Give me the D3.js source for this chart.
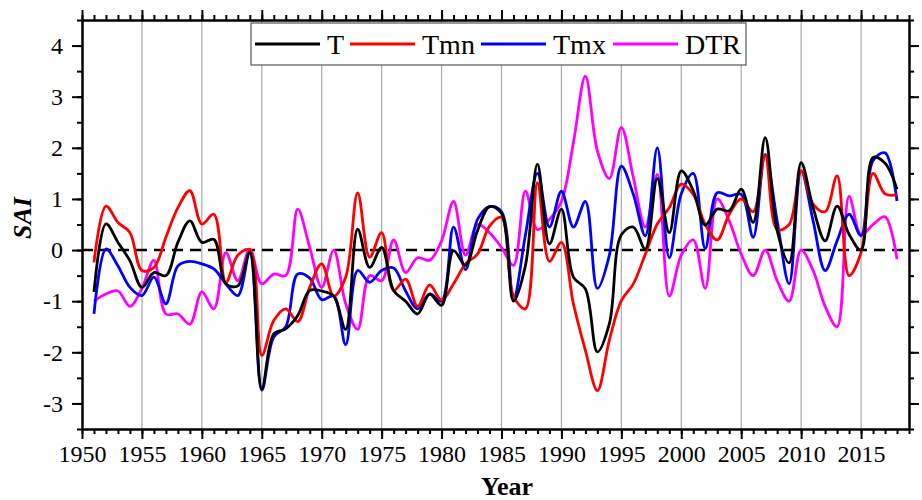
<!DOCTYPE html>
<html>
<head>
<meta charset="utf-8">
<script src="https://cdnjs.cloudflare.com/ajax/libs/d3/7.8.5/d3.min.js"></script>
<style>
body { margin: 0; background: #fff; }
</style>
</head>
<body>
<div id="canvas"></div>
<script>
var w = 922;
var h = 500;

// years 1951 - 2018
var years = d3.range(1951, 2019);

var seriesNames = ["T", "Tmn", "Tmx", "DTR"];

var tData = [
    -0.82, 0.51, 0.15, -0.21, -0.73, -0.44, -0.50, 0.15, 0.57, 0.15,   // 1951-1960
    0.21, -0.66, -0.70, -0.05, -2.72, -1.64, -1.54, -1.28, -0.79, -0.80, // 1961-1970
    -0.90, -1.55, 0.41, -0.34, 0.05, -0.79, -1.00, -1.25, -0.86, -1.08, // 1971-1980
    -0.01, -0.30, 0.38, 0.85, 0.72, -1.00, -0.30, 1.68, 0.12, 0.80,     // 1981-1990
    -0.53, -0.76, -1.99, -1.44, 0.30, 0.45, 0.02, 1.40, 0.34, 1.55,     // 1991-2000
    1.16, 0.49, 0.80, 0.77, 1.19, 0.54, 2.20, 0.38, -0.25, 1.71,        // 2001-2010
    0.83, 0.18, 0.86, 0.31, 0.00, 1.81, 1.70, 1.19                     // 2011-2018
];

var tmnData = [
    -0.24, 0.86, 0.54, 0.34, -0.40, -0.34, 0.25, 0.83, 1.16, 0.51,
    0.70, -0.63, -0.10, 0.00, -2.06, -1.38, -1.15, -1.40, -0.73, -0.27,
    -0.90, -0.53, 1.12, -0.14, 0.34, -0.79, -0.57, -1.10, -0.68, -0.98,
    -0.66, -0.27, -0.08, 0.47, 0.64, -0.90, -1.15, 1.32, -0.22, 0.15,
    -1.05, -1.96, -2.75, -1.76, -0.99, -0.66, -0.08, 0.51, 0.83, 1.29,
    1.09, 0.50, 0.20, 0.70, 1.00, 0.75, 1.85, 0.40, 0.50, 1.55,
    0.90, 0.75, 1.45, -0.50, -0.05, 1.50, 1.10, 1.08
];

var tmxData = [
    -1.25, 0.02, -0.31, -0.73, -0.89, -0.53, -1.05, -0.31, -0.22, -0.27,
    -0.37, -0.66, -0.89, -0.05, -2.74, -1.70, -1.50, -0.47, -0.55, -0.97,
    -0.90, -1.85, -0.40, -0.63, -0.40, -0.35, -0.80, -1.15, -0.86, -1.00,
    0.45, -0.38, 0.60, 0.85, 0.75, -0.95, 0.30, 1.50, 0.45, 1.15,
    0.45, 0.95, -0.75, -0.10, 1.64, 1.09, 0.28, 2.00, -0.15, 1.10,
    1.50, 0.03, 1.12, 1.06, 1.09, 0.25, 1.87, 0.57, -0.66, 1.55,
    0.57, -0.40, 0.18, 0.70, 0.28, 1.75, 1.90, 0.96
];

var dtrData = [
    -1.00, -0.86, -0.80, -1.10, -0.75, -0.20, -1.25, -1.25, -1.45, -0.82,
    -1.15, -0.05, -0.60, 0.02, -0.66, -0.47, -0.50, 0.80, 0.05, -0.73,
    0.00, -1.05, -1.55, -0.50, -0.60, 0.20, -0.44, -0.15, -0.20, 0.18,
    0.95, -0.10, 0.50, 0.34, 0.05, -0.30, 1.15, 0.40, 0.60, 0.95,
    2.10, 3.40, 1.94, 1.40, 2.40, 1.42, 0.45, 1.48, -0.90, -0.10,
    0.20, -0.75, 1.00, 0.57, -0.08, -0.50, 0.00, -0.60, -1.00, 0.00,
    -0.40, -1.10, -1.50, 1.05, 0.30, 0.50, 0.65, -0.18
];

var xTicks = d3.range(1950, 2016, 5);
var yTicks = [-3, -2, -1, 0, 1, 2, 3, 4];

var lines = [
    { name: "T",   color: "#000000", data: tData },
    { name: "Tmn", color: "#ff0000", data: tmnData },
    { name: "Tmx", color: "#0000ff", data: tmxData },
    { name: "DTR", color: "#ff00ff", data: dtrData }
];

// plot box (note: "top" is taken by window.top, so use other names)
var plotL = 82, plotR = 909, plotT = 20, plotB = 429;
var font = "'Liberation Serif', 'Times New Roman', serif";

var svg = d3.select("#canvas").append("svg")
    .attr("width", w)
    .attr("height", h)
    .style("background-color", "white");

var xScale = d3.scaleLinear()
    .domain([1950, 2019])
    .range([plotL, plotR]);

var yScale = d3.scaleLinear()
    .domain([-3.5, 4.5])
    .range([plotB, plotT]);

// vertical grid lines every 5 years
svg.append("g")
    .selectAll("line")
    .data(xTicks.filter(d => d > 1950))
    .enter().append("line")
    .attr("x1", d => xScale(d))
    .attr("x2", d => xScale(d))
    .attr("y1", plotT)
    .attr("y2", plotB)
    .attr("stroke", "#aaaaaa")
    .attr("stroke-width", 1.2);

// dashed zero line
svg.append("line")
    .attr("x1", plotL)
    .attr("x2", plotR)
    .attr("y1", yScale(0))
    .attr("y2", yScale(0))
    .attr("stroke", "black")
    .attr("stroke-width", 2.5)
    .attr("stroke-dasharray", "11,7");

var line = d3.line()
    .x((d, i) => xScale(years[i]))
    .y(d => yScale(d))
    .curve(d3.curveCatmullRom.alpha(0.5));

// draw magenta first, black last
lines.slice().reverse().forEach(function(s) {
    svg.append("path")
        .datum(s.data)
        .attr("d", line)
        .attr("fill", "none")
        .attr("stroke", s.color)
        .attr("stroke-width", 2.8)
        .attr("stroke-linejoin", "round");
});

// axes, all four sides with outward ticks
function styleAxis(g) {
    g.selectAll("path").attr("stroke", "black").attr("stroke-width", 2);
    g.selectAll("line").attr("stroke", "black").attr("stroke-width", 2);
    g.selectAll("text")
        .attr("font-family", font)
        .attr("font-size", 24)
        .attr("fill", "black");
}

var minorX = d3.range(1950, 2020, 1);
var minorY = d3.range(-3.5, 4.51, 0.5);
// plain hyphen for negatives, like the original
var plainFmt = d => String(d);

// bottom
svg.append("g")
    .attr("transform", `translate(0,${plotB})`)
    .call(d3.axisBottom(xScale).tickValues(minorX).tickSize(5).tickFormat("").tickSizeOuter(0))
    .call(styleAxis);
svg.append("g")
    .attr("transform", `translate(0,${plotB})`)
    .call(d3.axisBottom(xScale).tickValues(xTicks).tickSize(10).tickPadding(6).tickFormat(plainFmt).tickSizeOuter(0))
    .call(styleAxis);

// top
svg.append("g")
    .attr("transform", `translate(0,${plotT})`)
    .call(d3.axisTop(xScale).tickValues(minorX).tickSize(5).tickFormat("").tickSizeOuter(0))
    .call(styleAxis);
svg.append("g")
    .attr("transform", `translate(0,${plotT})`)
    .call(d3.axisTop(xScale).tickValues(xTicks).tickSize(10).tickFormat("").tickSizeOuter(0))
    .call(styleAxis);

// left
svg.append("g")
    .attr("transform", `translate(${plotL},0)`)
    .call(d3.axisLeft(yScale).tickValues(minorY).tickSize(5).tickFormat("").tickSizeOuter(0))
    .call(styleAxis);
svg.append("g")
    .attr("transform", `translate(${plotL},0)`)
    .call(d3.axisLeft(yScale).tickValues(yTicks).tickSize(10).tickPadding(9).tickFormat(plainFmt).tickSizeOuter(0))
    .call(styleAxis);

// right
svg.append("g")
    .attr("transform", `translate(${plotR},0)`)
    .call(d3.axisRight(yScale).tickValues(minorY).tickSize(5).tickFormat("").tickSizeOuter(0))
    .call(styleAxis);
svg.append("g")
    .attr("transform", `translate(${plotR},0)`)
    .call(d3.axisRight(yScale).tickValues(yTicks).tickSize(10).tickFormat("").tickSizeOuter(0))
    .call(styleAxis);

// axis titles
svg.append("text")
    .attr("x", 507)
    .attr("y", 495)
    .attr("text-anchor", "middle")
    .attr("font-family", font)
    .attr("font-size", 26)
    .attr("font-weight", "bold")
    .text("Year");

svg.append("text")
    .attr("transform", "translate(31,218) rotate(-90)")
    .attr("text-anchor", "middle")
    .attr("font-family", font)
    .attr("font-size", 26)
    .attr("font-weight", "bold")
    .attr("font-style", "italic")
    .text("SAI");

// legend
var legend = svg.append("g");
legend.append("rect")
    .attr("x", 251)
    .attr("y", 23)
    .attr("width", 495)
    .attr("height", 42)
    .attr("fill", "white")
    .attr("stroke", "#555")
    .attr("stroke-width", 1.2);

var legendX = [255, 350, 481, 613];
lines.forEach(function(s, i) {
    legend.append("line")
        .attr("x1", legendX[i])
        .attr("x2", legendX[i] + 65)
        .attr("y1", 44)
        .attr("y2", 44)
        .attr("stroke", s.color)
        .attr("stroke-width", 2.8);
    legend.append("text")
        .attr("x", legendX[i] + 72)
        .attr("y", 54)
        .attr("font-family", font)
        .attr("font-size", 28)
        .text(s.name);
});
</script>
</body>
</html>
